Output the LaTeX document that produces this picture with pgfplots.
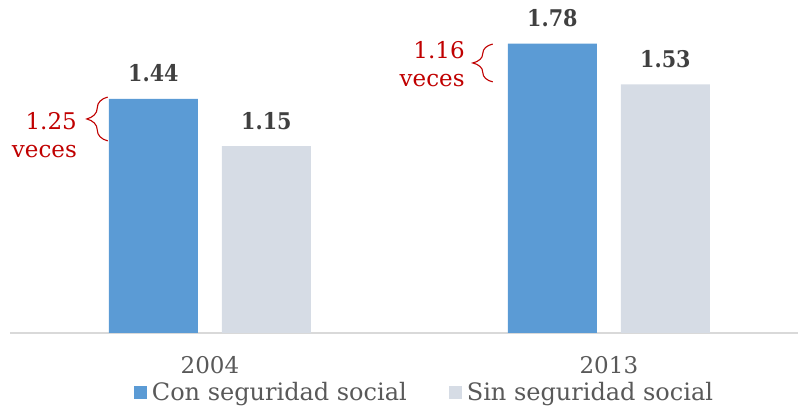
\documentclass[border=0pt]{standalone}
\usepackage{pgfplots}
\pgfplotsset{compat=1.18}
\usepackage{fontspec}
\setmainfont{DejaVu Serif}
\newfontfamily\condfont{DejaVu Serif Condensed}
\usetikzlibrary{decorations.pathreplacing}
\definecolor{conss}{HTML}{5B9BD5}
\definecolor{sinss}{HTML}{D6DCE5}
\definecolor{axisgray}{HTML}{D9D9D9}
\definecolor{labgray}{HTML}{595959}
\definecolor{valgray}{HTML}{404040}
\definecolor{redann}{HTML}{C00000}
\newcommand{\chartfont}{\fontsize{23}{27}\selectfont}
\newcommand{\legfont}{\fontsize{24}{28}\selectfont}
\begin{document}
\begin{tikzpicture}
\begin{axis}[
  at={(10pt,73pt)}, anchor=south west,
  scale only axis, width=788pt, height=333pt,
  xmin=-0.501, xmax=1.474, ymin=0, ymax=2.049,
  ybar=24pt, bar width=89pt,
  axis x line*=bottom, axis y line=none,
  x axis line style={draw=axisgray, line width=1.5pt},
  xtick=data, xticklabels={2004,2013}, xtick style={draw=none}, ytick=\empty,
  xticklabel style={font=\chartfont, text=labgray, anchor=base, yshift=-36pt},
  nodes near coords,
  nodes near coords style={font=\condfont\bfseries\chartfont, text=valgray, anchor=base, yshift=17pt},
  /pgf/number format/.cd, fixed, fixed zerofill, precision=2, assume math mode=true,
  /pgfplots/.cd,
  legend style={at={(0.526,-0.179)}, anchor=center, draw=none, legend columns=2,
    font=\legfont, text=labgray,
    /tikz/every even column/.append style={column sep=40pt}},
  legend image code/.code={\fill[#1] (0pt,-6.5pt) rectangle (13pt,6.5pt); \path (16pt,0pt);},
  clip=false,
]
\addplot[fill=conss, draw=none] coordinates {(0,1.44) (1,1.78)};
\addplot[fill=sinss, draw=none] coordinates {(0,1.15) (1,1.53)};
\legend{Con seguridad social, Sin seguridad social}

\draw[redann, line width=1.1pt, decorate, decoration={brace, amplitude=21pt}]
  (axis cs:-0.256,1.182) -- (axis cs:-0.256,1.452);
\node[redann, font=\chartfont, inner sep=0pt, anchor=base east] at (axis cs:-0.333,1.255) {1.25};
\node[redann, font=\chartfont, inner sep=0pt, anchor=base east] at (axis cs:-0.333,1.077) {veces};

\draw[redann, line width=1.1pt, decorate, decoration={brace, amplitude=20pt}]
  (axis cs:0.709,1.545) -- (axis cs:0.709,1.778);
\node[redann, font=\chartfont, inner sep=0pt, anchor=base east] at (axis cs:0.639,1.686) {1.16};
\node[redann, font=\chartfont, inner sep=0pt, anchor=base east] at (axis cs:0.639,1.514) {veces};
\end{axis}
\pgfresetboundingbox
\path[use as bounding box] (0,0) rectangle (798pt,406pt);
\end{tikzpicture}
\end{document}
